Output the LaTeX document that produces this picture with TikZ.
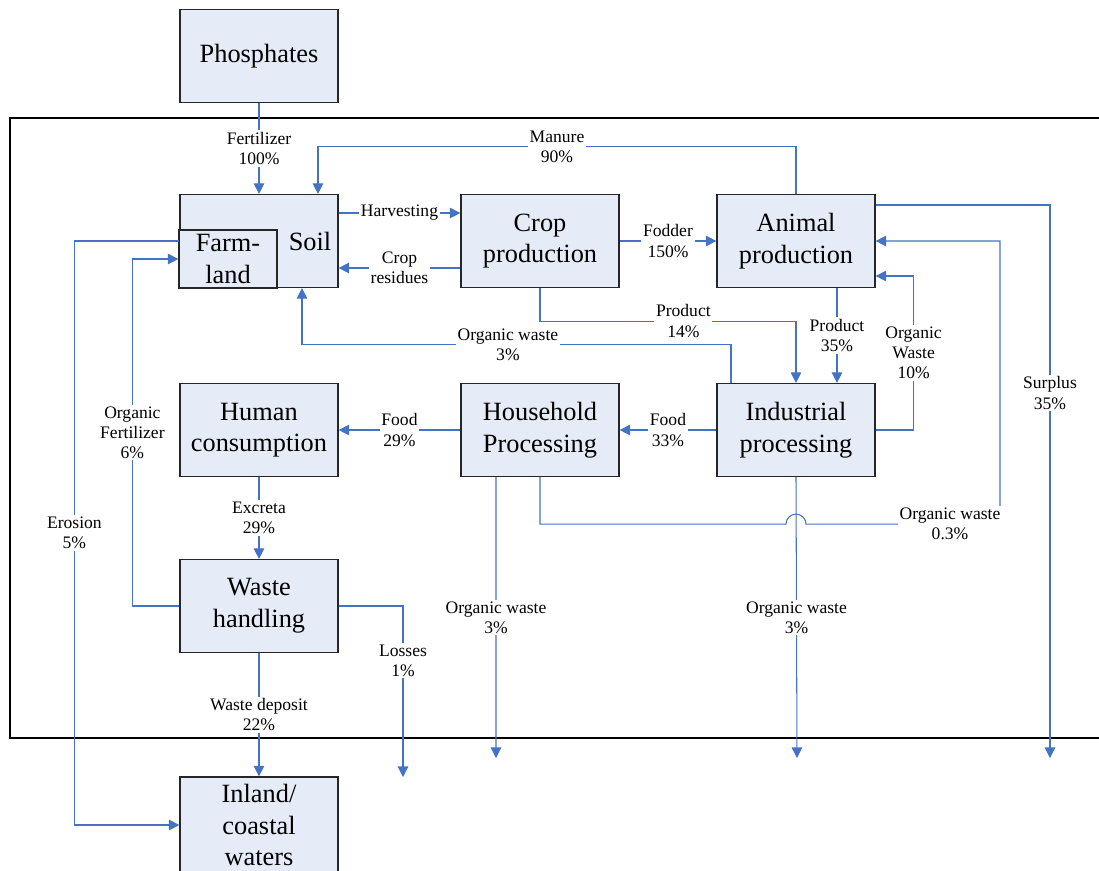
\documentclass[tikz,border=0pt]{standalone}
\usepackage{fontspec}
\setmainfont{Liberation Serif}
\usepackage{xcolor}
\usepackage{tikz}
\usetikzlibrary{arrows.meta,positioning,calc}

\definecolor{flowblue}{RGB}{68,114,196}
\definecolor{boxfill}{RGB}{230,236,247}

\begin{document}
\begin{tikzpicture}[x=0.02cm, y=-0.02cm,
    box/.style={rectangle, draw=black!85, line width=0.7pt, fill=boxfill, minimum width=3.16cm, minimum height=1.86cm, align=center, inner sep=1pt, font=\fontsize{15}{18}\selectfont},
    flow/.style={draw=flowblue, line width=0.6pt, -{Triangle[length=6pt,width=6pt]}},
    lab/.style={fill=white, inner sep=1pt, align=center, text=black, font=\fontsize{10}{11.5}\selectfont}
]
\useasboundingbox (0,0) rectangle (1099,870);

% System boundary
\draw[line width=0.9pt] (10,118) rectangle (1120,738);

% Boxes
\node[box] (phos) at (259,56) {Phosphates};
\node[box] (soil) at (259,241) {};
\node[box, minimum width=1.96cm, minimum height=1.16cm, inner sep=0pt] (farm) at (228,259) {Farm-\\land};
\node[anchor=east, inner sep=0pt, font=\fontsize{15}{18}\selectfont] (soiltext) at ([xshift=-0.14cm]soil.east) {Soil};
\node[box] (crop) at (540,241) {Crop\\production};
\node[box] (animal) at (796,241) {Animal\\production};
\node[box] (human) at (259,430) {Human\\consumption};
\node[box] (hh) at (540,430) {Household\\Processing};
\node[box] (ind) at (796,430) {Industrial\\processing};
\node[box] (waste) at (259,606) {Waste\\handling};
\node[box, minimum height=1.92cm] (inland) at (259,825) {Inland/\\coastal\\waters};

% Free ends
\coordinate (surplusend) at (1050,758);
\coordinate (lossend) at (403,777);
\coordinate (hhwaste) at (496,758);
\coordinate (indwaste) at (797,758);

% Flows
\draw[flow] (phos.south) -- node[lab]{Fertilizer\\100\%} (soil.north);
\draw[flow] (animal.north) -- ++(0,-47) -| node[lab, pos=0.25]{Manure\\90\%} ([xshift=1.18cm]soil.north);
\draw[flow] ([yshift=0.56cm]soil.east) -- node[lab]{Harvesting} ([yshift=0.56cm]crop.west);
\draw[flow] ([yshift=-0.54cm]crop.west) -- node[lab]{Crop\\residues} ([yshift=-0.54cm]soil.east);
\draw[flow] (crop.east) -- node[lab]{Fodder\\150\%} (animal.west);
\draw[flow] (crop.south) -- ++(0,33) -| node[lab, pos=0.28]{Product\\14\%} (ind.north);
\draw[flow] ([xshift=0.82cm]animal.south) -- node[lab]{Product\\35\%} ([xshift=0.82cm]ind.north);
\draw[flow] (ind.east) -- ++(38,0) |- node[lab, pos=0.25]{Organic\\Waste\\10\%} ([yshift=-0.7cm]animal.east);
\draw[flow] (hh.south) -- ++(0,47) -- ++(246,0) arc[start angle=180, end angle=0, radius=0.2cm] -- ++(194,0) node[lab, xshift=-1cm]{Organic waste\\0.3\%} |- (animal.east);
\draw[flow] ([yshift=0.72cm]animal.east) -| node[lab, pos=0.67]{Surplus\\35\%} (surplusend);
\draw[flow] ([xshift=-1.3cm]ind.north) -- ++(0,-38) -| node[lab, pos=0.26]{Organic waste\\3\%} ([xshift=0.86cm]soil.south);
\draw[flow] (ind.west) -- node[lab]{Food\\33\%} (hh.east);
\draw[flow] (hh.west) -- node[lab]{Food\\29\%} (human.east);
\draw[flow] (human.south) -- node[lab]{Excreta\\29\%} (waste.north);
\draw[flow] (waste.west) -- ++(-47,0) |- node[lab, pos=0.25]{Organic\\Fertilizer\\6\%} (farm.west);
\draw[flow] (soil.west) -- ++(-105,0) |- node[lab, pos=0.25]{Erosion\\5\%} (inland.west);
\draw[flow] (waste.east) -| node[lab, pos=0.66]{Losses\\1\%} (lossend);
\draw[flow] (waste.south) -- node[lab]{Waste deposit\\22\%} (inland.north);
\draw[flow] ([xshift=-0.88cm]hh.south) -- node[lab]{Organic waste\\3\%} (hhwaste);
\draw[flow] (ind.south) -- node[lab]{Organic waste\\3\%} (indwaste);

\end{tikzpicture}
\end{document}
